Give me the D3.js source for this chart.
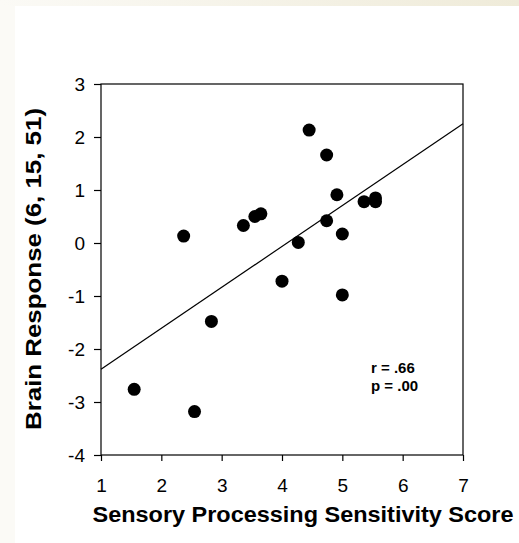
<!DOCTYPE html>
<html>
<head>
<meta charset="utf-8">
<script src="https://cdn.jsdelivr.net/npm/d3@7"></script>
<style>
  body { margin: 0; background: #fff; }
  svg text { font-family: Arial, "Liberation Sans", sans-serif; }
</style>
</head>
<body>
<svg id="chart" width="519" height="543"></svg>
<script>
// sensory processing score vs brain response
const sensoryScore = [2.37, 3.36, 3.55, 3.65, 4.45, 4.74, 4.91, 5.36, 5.55, 5.55, 4.74, 5.0, 4.27, 4.0, 5.0, 2.83, 1.55, 2.55];
const brainResponse = [0.13, 0.33, 0.50, 0.55, 2.13, 1.66, 0.91, 0.78, 0.85, 0.78, 0.42, 0.17, 0.01, -0.72, -0.98, -1.48, -2.76, -3.18];
const fitX = [1, 7];
const fitY = [-2.38, 2.25];
const xTicks = [1, 2, 3, 4, 5, 6, 7];
const yTicks = [-4, -3, -2, -1, 0, 1, 2, 3];
const stats = ["r = .66", "p = .00"];

const svg = d3.select("#chart");

// cream frame top + left
const defs = svg.append("defs");
const grad = defs.append("linearGradient").attr("id", "topg").attr("x1", "0").attr("x2", "1");
grad.append("stop").attr("offset", "0").attr("stop-color", "#fbfaf6");
grad.append("stop").attr("offset", "1").attr("stop-color", "#efebd9");
svg.append("rect").attr("x", 0).attr("y", 0).attr("width", 519).attr("height", 6).attr("fill", "url(#topg)");
svg.append("rect").attr("x", 0).attr("y", 6).attr("width", 15).attr("height", 537).attr("fill", "#fbfaf6");

const m = { left: 101, right: 463, top: 84, bottom: 455 };
const x = d3.scaleLinear().domain([1, 7]).range([m.left, m.right]);
const y = d3.scaleLinear().domain([-4, 3]).range([m.bottom, m.top]);

// frame
svg.append("rect")
  .attr("x", m.left).attr("y", m.top)
  .attr("width", m.right - m.left).attr("height", m.bottom - m.top)
  .attr("fill", "none").attr("stroke", "#000").attr("stroke-width", 1.2);

const xAxis = svg.append("g").attr("transform", `translate(0,${m.bottom})`)
  .call(d3.axisBottom(x).tickValues(xTicks).tickSize(6).tickFormat(d3.format("d")));
const yAxis = svg.append("g").attr("transform", `translate(${m.left},0)`)
  .call(d3.axisLeft(y).tickValues(yTicks).tickSize(7).tickPadding(9).tickFormat(d => d < 0 ? "-" + Math.abs(d) : d));
[xAxis, yAxis].forEach(g => {
  g.attr("font-family", null);
  g.select(".domain").remove();
  g.selectAll("line").attr("stroke", "#000").attr("stroke-width", 1.2);
  g.selectAll("text").attr("fill", "#000").attr("font-size", 19);
});
xAxis.selectAll("text").attr("y", 37).attr("dy", null);
yAxis.selectAll("text").attr("dy", "0.35em");

// regression line
svg.append("line")
  .attr("x1", x(fitX[0])).attr("y1", y(fitY[0]))
  .attr("x2", x(fitX[1])).attr("y2", y(fitY[1]))
  .attr("stroke", "#000").attr("stroke-width", 1.2);

svg.selectAll("circle.pt").data(sensoryScore).enter().append("circle")
  .attr("class", "pt")
  .attr("cx", d => x(d))
  .attr("cy", (d, i) => y(brainResponse[i]))
  .attr("r", 6.5)
  .attr("fill", "#000");

svg.selectAll("text.stat").data(stats).enter().append("text")
  .attr("class", "stat")
  .attr("x", 371)
  .attr("y", (d, i) => 373 + i * 18)
  .attr("font-size", 15).attr("font-weight", "bold")
  .text(d => d);

svg.append("text")
  .attr("x", 303).attr("y", 522)
  .attr("text-anchor", "middle")
  .attr("font-size", 22).attr("font-weight", "bold")
  .attr("textLength", 421).attr("lengthAdjust", "spacingAndGlyphs")
  .text("Sensory Processing Sensitivity Score");

svg.append("text")
  .attr("transform", "translate(41,269) rotate(-90)")
  .attr("text-anchor", "middle")
  .attr("font-size", 22).attr("font-weight", "bold")
  .attr("textLength", 322).attr("lengthAdjust", "spacingAndGlyphs")
  .text("Brain Response (6, 15, 51)");
</script>
</body>
</html>
